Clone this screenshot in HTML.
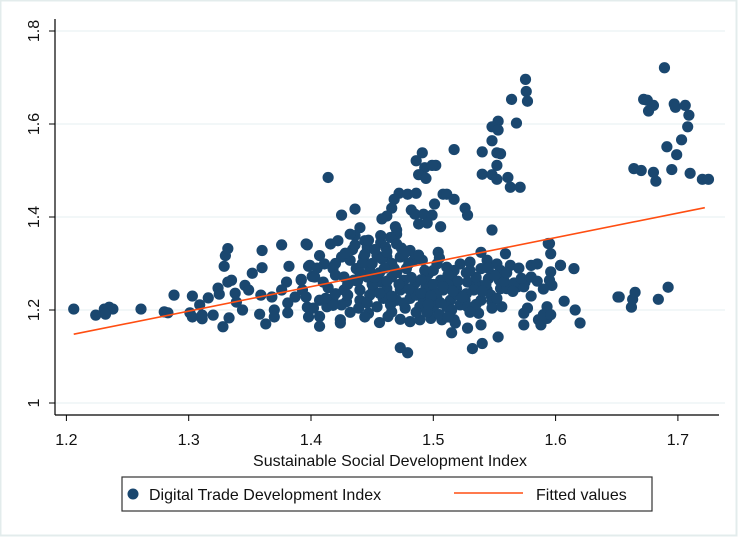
<!DOCTYPE html>
<html><head><meta charset="utf-8">
<style>
html,body{margin:0;padding:0;background:#fff;}
svg{display:block;font-family:"Liberation Sans",Arial,sans-serif;}
</style></head>
<body>
<svg id="chart" width="738" height="537" viewBox="0 0 738 537">
<rect x="0.5" y="0.5" width="736" height="535" fill="#fff" stroke="#e3ecec" stroke-width="2"/>
<g id="grid"></g>
<g id="points"></g>
<g id="fit"></g>
<g id="axes"></g>
<text x="390" y="466" font-size="16" text-anchor="middle" fill="#111">Sustainable Social Development Index</text>
<g>
<rect x="122" y="477" width="530" height="34" fill="#fff" stroke="#333" stroke-width="1.2"/>
<circle cx="133" cy="494" r="5.5" fill="#1a476f"/>
<text x="149" y="500" font-size="16" fill="#111">Digital Trade Development Index</text>
<line x1="454" y1="493" x2="523" y2="493" stroke="#ff4e12" stroke-width="1.6"/>
<text x="536" y="500" font-size="16" fill="#111">Fitted values</text>
</g>
</svg>
<script>
const xTicks=[1.2,1.3,1.4,1.5,1.6,1.7];
const xTickLabels=["1.2","1.3","1.4","1.5","1.6","1.7"];
const yTicks=[1,1.2,1.4,1.6,1.8];
const yTickLabels=["1","1.2","1.4","1.6","1.8"];
const fitX=[1.206,1.722];
const fitY=[1.148,1.420];
const observations=[
[1.206,1.202],[1.224,1.189],[1.231,1.202],[1.235,1.206],[1.238,1.202],[1.232,1.191],[1.261,1.202],[1.280,1.196],[1.283,1.194],[1.288,1.232],
[1.301,1.194],[1.303,1.185],[1.311,1.181],[1.311,1.189],[1.303,1.23],[1.309,1.211],[1.316,1.226],[1.320,1.189],[1.328,1.164],[1.333,1.183],
[1.329,1.294],[1.330,1.317],[1.332,1.332],[1.324,1.247],[1.325,1.234],[1.332,1.26],[1.335,1.264],[1.338,1.236],[1.339,1.217],[1.344,1.2],
[1.346,1.253],[1.349,1.243],[1.352,1.279],[1.360,1.328],[1.360,1.291],[1.359,1.232],[1.358,1.191],[1.363,1.170],[1.376,1.340],[1.382,1.294],
[1.397,1.340],[1.398,1.294],[1.380,1.260],[1.392,1.266],[1.401,1.272],[1.368,1.228],[1.370,1.2],[1.376,1.243],[1.381,1.215],[1.387,1.228],
[1.393,1.243],[1.397,1.206],[1.370,1.185],[1.381,1.194],[1.398,1.185],
[1.5754,1.696],[1.576,1.67],[1.577,1.649],[1.564,1.653],[1.568,1.602],[1.553,1.606],[1.548,1.594],[1.553,1.587],[1.548,1.564],[1.540,1.540],
[1.552,1.538],[1.555,1.536],[1.552,1.511],[1.540,1.492],[1.548,1.491],[1.552,1.481],[1.561,1.485],[1.563,1.464],[1.571,1.464],[1.517,1.545],
[1.491,1.538],[1.486,1.521],[1.493,1.506],[1.488,1.491],[1.494,1.483],[1.502,1.511],[1.499,1.511],[1.414,1.485],
[1.472,1.451],[1.479,1.449],[1.486,1.451],[1.508,1.449],[1.511,1.449],[1.517,1.438],[1.526,1.419],[1.528,1.404],[1.501,1.428],
[1.468,1.438],[1.466,1.419],[1.462,1.402],[1.458,1.396],[1.482,1.415],[1.485,1.406],[1.488,1.385],[1.492,1.406],[1.499,1.404],[1.495,1.387],
[1.506,1.379],[1.436,1.417],[1.425,1.404],[1.470,1.372],[1.548,1.372],[1.594,1.343],[1.596,1.321],[1.615,1.289],[1.604,1.296],[1.607,1.219],
[1.651,1.228],[1.616,1.2],[1.62,1.172],[1.553,1.142],[1.532,1.117],[1.54,1.128],[1.473,1.119],[1.479,1.108],[1.515,1.151],
[1.689,1.721],[1.672,1.653],[1.675,1.651],[1.680,1.640],[1.676,1.628],[1.697,1.643],[1.698,1.636],[1.706,1.640],[1.709,1.619],[1.708,1.594],
[1.703,1.566],[1.699,1.534],[1.691,1.551],[1.664,1.504],[1.670,1.5],[1.680,1.496],[1.682,1.477],[1.695,1.502],[1.710,1.494],[1.720,1.481],
[1.725,1.481],[1.652,1.228],[1.662,1.206],[1.663,1.223],[1.665,1.238],[1.684,1.223],[1.692,1.249],
[1.440,1.377],[1.436,1.360],[1.444,1.349],[1.432,1.363],[1.469,1.379],[1.470,1.363],[1.465,1.356],[1.457,1.345],[1.396,1.342],[1.416,1.342],
[1.422,1.349],[1.446,1.335],[1.461,1.335],[1.470,1.342],[1.481,1.328],[1.504,1.324],[1.539,1.324],[1.559,1.321],[1.595,1.343],
[1.407,1.317],[1.399,1.296],[1.411,1.299],[1.425,1.314],[1.432,1.307],[1.443,1.314],[1.454,1.317],[1.462,1.314],[1.473,1.314],[1.484,1.307],
[1.491,1.307],[1.503,1.299],[1.511,1.292],[1.522,1.299],[1.530,1.303],[1.544,1.307],[1.552,1.299],[1.563,1.296],[1.580,1.296],[1.585,1.299],
[1.596,1.282],[1.604,1.296],[1.418,1.289],[1.437,1.289],[1.448,1.285],[1.468,1.289],[1.478,1.289],[1.496,1.278],[1.517,1.285],[1.539,1.289],[1.555,1.285],
[1.392,1.264],[1.403,1.271],[1.410,1.260],[1.427,1.271],[1.435,1.264],[1.446,1.271],[1.457,1.260],[1.466,1.271],[1.476,1.264],[1.485,1.257],
[1.495,1.260],[1.506,1.264],[1.515,1.271],[1.528,1.260],[1.536,1.257],[1.545,1.267],[1.554,1.264],[1.569,1.250],[1.575,1.260],[1.580,1.271],
[1.595,1.264],[1.597,1.253],[1.427,1.243],[1.440,1.243],[1.451,1.243],[1.462,1.246],[1.473,1.243],[1.484,1.239],[1.498,1.243],[1.508,1.243],
[1.519,1.246],[1.533,1.243],[1.544,1.243],[1.555,1.246],[1.560,1.246],[1.574,1.250],
[1.396,1.228],[1.407,1.221],[1.418,1.225],[1.429,1.218],[1.440,1.221],[1.448,1.232],[1.459,1.225],[1.470,1.221],[1.481,1.225],[1.492,1.221],
[1.503,1.225],[1.514,1.221],[1.526,1.221],[1.539,1.221],[1.547,1.232],[1.548,1.218],[1.402,1.204],[1.413,1.207],[1.425,1.211],[1.439,1.204],
[1.454,1.207],[1.465,1.211],[1.477,1.204],[1.489,1.207],[1.500,1.204],[1.511,1.207],[1.522,1.211],[1.528,1.207],[1.548,1.204],[1.556,1.207],
[1.577,1.204],[1.593,1.207],
[1.407,1.186],[1.407,1.165],[1.424,1.179],[1.424,1.172],[1.447,1.193],[1.456,1.173],[1.463,1.186],[1.473,1.180],[1.481,1.175],[1.489,1.179],
[1.498,1.182],[1.507,1.179],[1.517,1.179],[1.518,1.172],[1.528,1.161],[1.537,1.193],[1.539,1.168],[1.574,1.193],[1.574,1.168],[1.586,1.179],
[1.588,1.168],[1.593,1.182],
[1.452,1.330],[1.458,1.310],[1.466,1.300],[1.474,1.333],[1.480,1.300],[1.488,1.318],[1.493,1.285],[1.505,1.312],[1.512,1.275],[1.520,1.262],
[1.527,1.280],[1.535,1.270],[1.543,1.255],[1.550,1.275],[1.558,1.262],[1.566,1.258],[1.572,1.268],[1.585,1.262],[1.590,1.190],[1.596,1.190],
[1.450,1.255],[1.456,1.280],[1.476,1.250],[1.486,1.232],[1.494,1.250],[1.502,1.236],[1.512,1.255],[1.520,1.232],[1.527,1.235],[1.535,1.212],
[1.430,1.255],[1.420,1.235],[1.414,1.248],[1.434,1.330],[1.442,1.300],[1.447,1.350],[1.457,1.360],[1.420,1.275],[1.405,1.290],[1.412,1.225],
[1.444,1.320],[1.450,1.300],[1.460,1.290],[1.470,1.280],[1.482,1.270],[1.490,1.265],[1.500,1.255],[1.508,1.250],[1.516,1.240],[1.524,1.228],
[1.440,1.280],[1.452,1.270],[1.462,1.262],[1.472,1.255],[1.480,1.245],[1.490,1.236],[1.498,1.230],[1.506,1.215],[1.515,1.200],[1.530,1.195],
[1.430,1.232],[1.438,1.262],[1.446,1.215],[1.456,1.236],[1.466,1.230],[1.476,1.215],[1.486,1.195],[1.495,1.195],[1.505,1.190],[1.512,1.185],
[1.420,1.300],[1.428,1.322],[1.436,1.340],[1.462,1.325],[1.476,1.320],[1.500,1.285],[1.530,1.285],[1.545,1.290],[1.560,1.280],[1.570,1.290],
[1.418,1.210],[1.432,1.195],[1.444,1.185],[1.466,1.196],[1.496,1.212],[1.540,1.240],[1.552,1.225],[1.565,1.240],[1.580,1.230],[1.590,1.245]
];

const NS="http://www.w3.org/2000/svg";
const X0=55,X1=719,YT=19,YB=415;
function xScale(v){return 66.4+(v-1.2)*1223;}
function yScale(v){return 403-(v-1)*465;}
function mk(tag,attrs,parent){const e=document.createElementNS(NS,tag);for(const k in attrs)e.setAttribute(k,attrs[k]);parent.appendChild(e);return e;}

const grid=document.getElementById('grid');
const axes=document.getElementById('axes');
yTicks.forEach((t,i)=>{
  const y=yScale(t);
  const g=mk('line',{x1:X0,x2:725,y1:y,y2:y,stroke:'#eaf2f3','stroke-width':1.3},grid);
  
  
  const tk=mk('line',{x1:X0-6,x2:X0,y1:y,y2:y,stroke:'#000','stroke-width':1},axes);
  
  
  const lb=mk('text',{x:0,y:0,'font-size':16,'text-anchor':'middle',fill:'#111',transform:'translate(39,'+y+') rotate(-90)'},axes);
  lb.textContent=yTickLabels[i];
  
  
});
const ya=mk('line',{x1:X0,x2:X0,y1:YT,y2:YB,stroke:'#000','stroke-width':1.2},axes);


const xa=mk('line',{x1:X0,x2:X1,y1:YB,y2:YB,stroke:'#000','stroke-width':1.2},axes);


xTicks.forEach((t,i)=>{
  const x=xScale(t);
  const tk=mk('line',{x1:x,x2:x,y1:YB,y2:YB+6,stroke:'#000','stroke-width':1},axes);
  
  
  const lb=mk('text',{x:x,y:445,'font-size':16,'text-anchor':'middle',fill:'#111'},axes);
  lb.textContent=xTickLabels[i];
  
  
});

const pts=document.getElementById('points');
observations.forEach(o=>{
  const c=mk('circle',{cx:xScale(o[0]),cy:yScale(o[1]),r:5.6,fill:'#1a476f'},pts);
  
  
});

const fit=document.getElementById('fit');
const fl=mk('line',{x1:xScale(fitX[0]),y1:yScale(fitY[0]),x2:xScale(fitX[1]),y2:yScale(fitY[1]),stroke:'#ff4e12','stroke-width':1.6},fit);


</script>
</body></html>
